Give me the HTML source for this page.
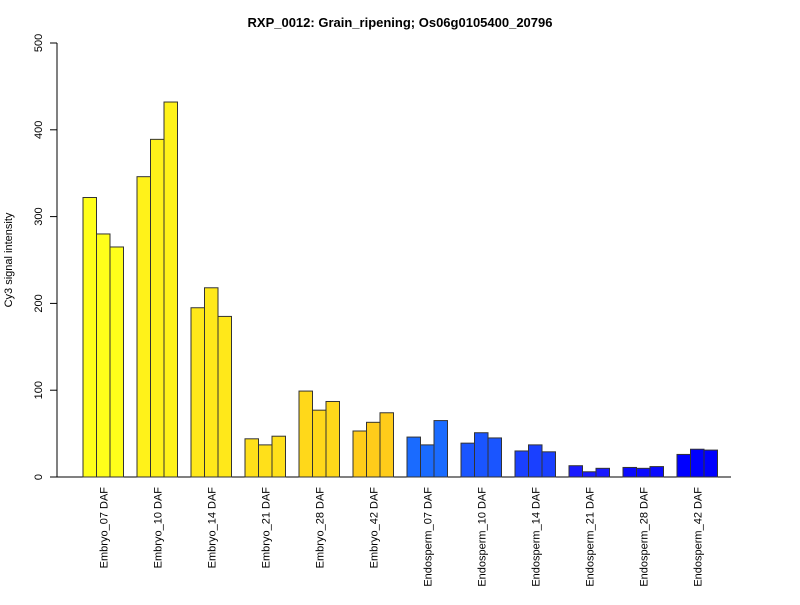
<!DOCTYPE html>
<html><head><meta charset="utf-8"><style>
body{margin:0;background:#fff}
svg text{font-family:"Liberation Sans",Arial,sans-serif;fill:#000}
</style></head><body>
<svg id="chart" width="800" height="600">
<text x="400" y="27" text-anchor="middle" font-size="13" font-weight="bold">RXP_0012: Grain_ripening; Os06g0105400_20796</text>
<text transform="translate(12,260) rotate(-90)" text-anchor="middle" font-size="11">Cy3 signal intensity</text>
<g id="axes"></g><g id="bars"></g>
</svg>
<script>
const categories=["Embryo_07 DAF","Embryo_10 DAF","Embryo_14 DAF","Embryo_21 DAF","Embryo_28 DAF","Embryo_42 DAF","Endosperm_07 DAF","Endosperm_10 DAF","Endosperm_14 DAF","Endosperm_21 DAF","Endosperm_28 DAF","Endosperm_42 DAF"];
const rep1=[322,346,195,44,99,53,46,39,30,13,11,26];
const rep2=[280,389,218,37,77,63,37,51,37,6,10,32];
const rep3=[265,432,185,47,87,74,65,45,29,10,12,31];
const colors=["#FFFF1A","#FFF21A","#FFE81A","#FFE01A","#FFD81A","#FFCC1A","#1A6BFF","#1A55FF","#1A40FF","#1A1AFF","#0A0AFF","#0000FF"];
const yTicks=[0,100,200,300,400,500];
const NS="http://www.w3.org/2000/svg";
const y0=477,yTop=43,yMax=500;
function ys(v){return y0-(v/yMax)*(y0-yTop);}
const bw=13.5,gx0=83,gstep=54;
function xs(i,r){return gx0+i*gstep+r*bw;}
function mk(tag,attrs,parent){const e=document.createElementNS(NS,tag);for(const k in attrs)e.setAttribute(k,attrs[k]);parent.appendChild(e);return e;}
const axes=document.getElementById('axes'),bars=document.getElementById('bars');
let a=mk('line',{x1:57,y1:yTop,x2:57,y2:y0,stroke:'#000'},axes);


let b=mk('line',{x1:57,y1:y0,x2:731,y2:y0,stroke:'#000'},axes);


yTicks.forEach(t=>{
 const tk=mk('line',{x1:50,y1:ys(t),x2:57,y2:ys(t),stroke:'#000'},axes);
 
 
 const tx=mk('text',{transform:`translate(42,${ys(t)}) rotate(-90)`,'text-anchor':'middle','font-size':11},axes);
 tx.textContent=t;
 
 
});
const series=[rep1,rep2,rep3];
categories.forEach((c,i)=>{
 series.forEach((s,r)=>{
  const v=s[i];
  const rect=mk('rect',{x:xs(i,r),y:ys(v),width:bw,height:y0-ys(v),fill:colors[i],stroke:'#333','stroke-width':1},bars);
  
  
 });
 const cx=xs(i,1.5);
 const lbl=mk('text',{transform:`translate(${cx+4},487) rotate(-90)`,'text-anchor':'end','font-size':11},bars);
 lbl.textContent=c;
 
 
});
</script>
</body></html>
